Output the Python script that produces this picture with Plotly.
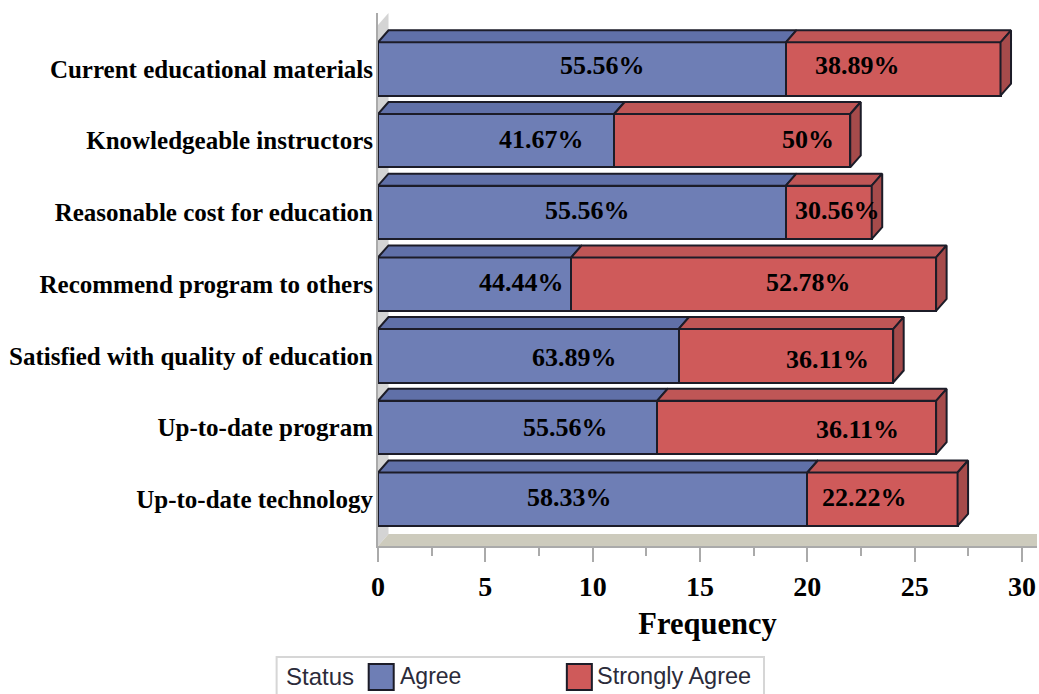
import plotly.graph_objects as go

categories = ["Current educational materials", "Knowledgeable instructors", "Reasonable cost for education",
              "Recommend program to others", "Satisfied with quality of education", "Up-to-date program",
              "Up-to-date technology"]
agree = [19, 11, 19, 9, 14, 13, 20]
strongly_agree = [10, 11, 4, 17, 10, 13, 7]
agree_labels = ["55.56%", "41.67%", "55.56%", "44.44%", "63.89%", "55.56%", "58.33%"]
strong_labels = ["38.89%", "50%", "30.56%", "52.78%", "36.11%", "36.11%", "22.22%"]
agree_label_x = [10.45, 7.6, 9.75, 6.7, 9.15, 8.75, 8.9]
strong_label_x = [22.35, 20.05, 21.4, 20.05, 20.95, 22.35, 22.65]
agree_label_dy = [-0.05, -0.02, -0.02, -0.02, 0.02, 0.0, -0.03]
strong_label_dy = [-0.05, -0.02, -0.02, -0.02, 0.05, 0.03, -0.03]
x_ticks = [0, 5, 10, 15, 20, 25, 30]

BLUE, BLUE_TOP = "#6e7eb5", "#6070a8"
RED, RED_TOP, RED_SIDE = "#cf5a5a", "#bf5656", "#a64b4b"
EDGE = "#1c1c28"
W, H = 1039, 694
L, R, T, B = 378.3, 1036.8, 13.0, 546.0   # plot box in page pixels
PX_X = (R - L) / 30.7
PX_Y = 71.7
Y0 = -0.781
Y1 = Y0 + (B - T) / PX_Y
BAR = 0.745
DX, DY = 10.5 / PX_X, 12 / PX_Y

def px(x): return (x - L) / (R - L)
def py(y): return (B - y) / (B - T)

rows = list(range(len(categories)))
totals = [a + s for a, s in zip(agree, strongly_agree)]

fig = go.Figure()
fig.add_bar(y=rows, x=agree, orientation="h", name="Agree", width=BAR, showlegend=False,
            marker=dict(color=BLUE, line=dict(color=EDGE, width=2)), hoverinfo="x+y")
fig.add_bar(y=rows, x=strongly_agree, orientation="h", name="Strongly Agree", width=BAR, showlegend=False,
            marker=dict(color=RED, line=dict(color=EDGE, width=2)), hoverinfo="x+y")

def polys(items):
    xs, ys = [], []
    for p in items:
        xs += [q[0] for q in p] + [p[0][0], None]
        ys += [q[1] for q in p] + [p[0][1], None]
    return xs, ys

top_blue, top_red, side = [], [], []
for i, a, t in zip(rows, agree, totals):
    ft, fb = i - BAR / 2, i + BAR / 2
    top_blue.append([(0, ft), (DX, ft - DY), (a + DX, ft - DY), (a, ft)])
    top_red.append([(a, ft), (a + DX, ft - DY), (t + DX, ft - DY), (t, ft)])
    side.append([(t, ft), (t + DX, ft - DY), (t + DX, fb - DY), (t, fb)])
for pl, col in ((top_blue, BLUE_TOP), (top_red, RED_TOP), (side, RED_SIDE)):
    xs, ys = polys(pl)
    fig.add_scatter(x=xs, y=ys, mode="lines", fill="toself", fillcolor=col, showlegend=False,
                    line=dict(color=EDGE, width=2), hoverinfo="skip", cliponaxis=False)

shapes = [
    dict(type="path", layer="below", xref="x", yref="y", fillcolor="#d4d4d4", line=dict(width=0),
         path=f"M0,{Y1} L{DX},{Y1-DY} L{DX},{Y0} L0,{Y0+DY} Z"),
    dict(type="path", layer="below", xref="x", yref="y", fillcolor="#cdcbbd", line=dict(width=0),
         path=f"M0,{Y1} L{DX},{Y1-DY} L30.7,{Y1-DY} L30.7,{Y1} Z"),
    dict(type="rect", xref="paper", yref="paper", x0=px(277), x1=px(764), y0=py(657), y1=py(696),
         fillcolor="white", line=dict(color="#d6d6d6", width=2)),
    dict(type="rect", xref="paper", yref="paper", x0=px(369), x1=px(394), y0=py(664), y1=py(690),
         fillcolor=BLUE, line=dict(color=EDGE, width=2)),
    dict(type="rect", xref="paper", yref="paper", x0=px(567), x1=px(592), y0=py(664), y1=py(690),
         fillcolor=RED, line=dict(color=EDGE, width=2)),
]

ann = []
SERIF = "Liberation Serif"
for i in rows:
    ann.append(dict(x=agree_label_x[i], y=i + agree_label_dy[i], text=agree_labels[i], showarrow=False))
    ann.append(dict(x=strong_label_x[i], y=i + strong_label_dy[i], text=strong_labels[i], showarrow=False))
for a in ann:
    a["font"] = dict(family=SERIF, size=26, color="black", weight="bold")
for text, x, size in (("Status", 284, 24), ("Agree", 398, 23), ("Strongly Agree", 595, 23.5)):
    ann.append(dict(xref="paper", yref="paper", x=px(x), y=py(676), xanchor="left", yanchor="middle", text=text,
                    showarrow=False, font=dict(family="Liberation Sans", size=size, color="#2b2b3a")))

fig.update_layout(
    width=W, height=H, autosize=False, barmode="stack", plot_bgcolor="white", paper_bgcolor="white",
    margin=dict(l=L, r=W - R, t=T, b=H - B, autoexpand=False), showlegend=False, shapes=shapes, annotations=ann,
    xaxis=dict(range=[0, 30.7], tickvals=x_ticks, ticks="outside", ticklen=14, tickwidth=2, tickcolor="#aaaaaa",
               automargin=False,
               showgrid=False, zeroline=False, showline=True, linecolor="#aaaaaa", linewidth=2,
               minor=dict(dtick=2.5, tick0=0, ticks="outside", ticklen=8, tickwidth=2, tickcolor="#aaaaaa", showgrid=False),
               tickfont=dict(family=SERIF, size=28, color="black", weight="bold"),
               title=dict(text="Frequency", font=dict(family=SERIF, size=30.5, color="black", weight="bold"), standoff=12)),
    yaxis=dict(range=[Y1, Y0], tickvals=rows, ticktext=categories, ticks="", showgrid=False, automargin=False,
               zeroline=False, showline=True, linecolor="#aaaaaa", linewidth=2, ticklabelstandoff=-2,
               tickfont=dict(family=SERIF, size=25, color="black", weight="bold")),
)
fig.write_html("out.html", config={"displayModeBar": False},
               post_script="document.body.style.margin='0';document.body.style.overflow='hidden';")
